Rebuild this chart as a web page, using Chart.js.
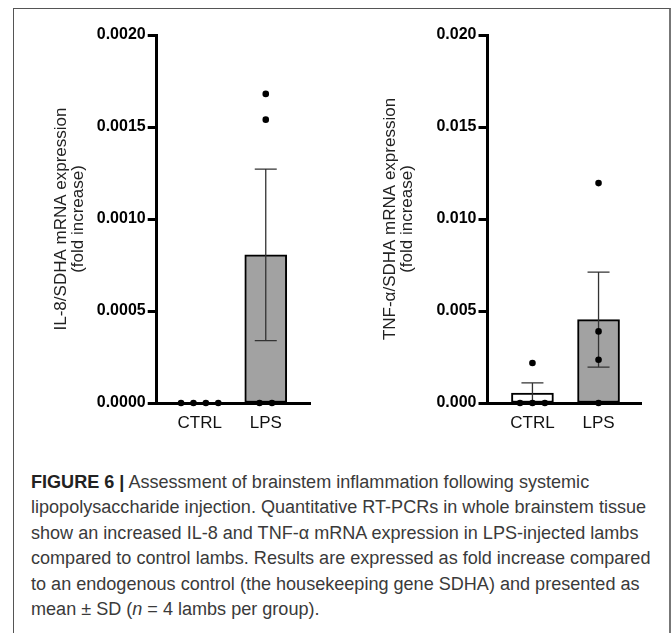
<!DOCTYPE html>
<html>
<head>
<meta charset="utf-8">
<script src="https://cdn.jsdelivr.net/npm/chart.js@4.4.0/dist/chart.umd.min.js"></script>
<style>
  html, body { margin: 0; padding: 0; background: #fff; }
  body { width: 672px; height: 633px; position: relative; overflow: hidden; font-family: "Liberation Sans", Arial, sans-serif; }
  .frame { position: absolute; left: 13px; top: 8px; width: 655px; height: 700px; border-top: 1px solid #555; border-left: 1px solid #555; border-right: 2px solid #777; }
  canvas { position: absolute; top: 0; }
  #left { left: 0; }
  #right { left: 336px; }
  #caption { position: absolute; left: 31px; top: 470px; line-height: 25.4px; font-size: 17px; color: #3a3a3a; white-space: nowrap; }
  #caption b { color: #222; }
</style>
</head>
<body>
<div class="frame"></div>
<canvas id="left" width="336" height="450"></canvas>
<canvas id="right" width="336" height="450"></canvas>
<div id="caption">
  <div><b>FIGURE 6 |</b> Assessment of brainstem inflammation following systemic</div>
  <div>lipopolysaccharide injection. Quantitative RT-PCRs in whole brainstem tissue</div>
  <div>show an increased IL-8 and TNF-α mRNA expression in LPS-injected lambs</div>
  <div id="wide">compared to control lambs. Results are expressed as fold increase compared</div>
  <div>to an endogenous control (the housekeeping gene SDHA) and presented as</div>
  <div>mean ± SD (<i>n</i> = 4 lambs per group).</div>
</div>
<script>
// values
const categories = ['CTRL', 'LPS'];
const barFills = ['#ffffff', '#a2a2a2'];

const il8Points = [[0, 0, 0, 0], [0.00168, 0.00154, 0, 0]];
const il8Means = [0, 0.000805];
const il8Errors = [0, 0.000466];
const il8Ticks = [0, 0.0005, 0.001, 0.0015, 0.002];

const tnfPoints = [[0.00217, 0, 0, 0], [0.01195, 0.00389, 0.00235, 0]];
const tnfMeans = [0.00054, 0.00453];
const tnfErrors = [0.00055, 0.00258];
const tnfTicks = [0, 0.005, 0.01, 0.015, 0.02];

const FONT = '"Liberation Sans", Arial, sans-serif';

// spread equal values sideways, like a scatter-dot column
function spreadPoints(groups, step) {
    const out = [];
    groups.forEach((vals, i) => {
        const count = {};
        vals.forEach(v => count[v] = (count[v] || 0) + 1);
        const seen = {};
        vals.forEach(v => {
            seen[v] = seen[v] === undefined ? 0 : seen[v] + 1;
            out.push({ x: i + (seen[v] - (count[v] - 1) / 2) * step, y: v });
        });
    });
    return out;
}

const errorBars = {
    id: 'errorBars',
    afterDatasetDraw(chart, args, opts) {
        if (args.index !== 0) return;
        const { ctx, scales: { x, y } } = chart;
        ctx.save();
        ctx.strokeStyle = '#333';
        ctx.lineWidth = 1.3;
        opts.means.forEach((m, i) => {
            const e = opts.errors[i];
            if (!e) return;
            const px = x.getPixelForValue(i);
            const hi = y.getPixelForValue(m + e);
            const lo = y.getPixelForValue(Math.max(m - e, 0));
            ctx.beginPath();
            ctx.moveTo(px, hi); ctx.lineTo(px, lo);
            ctx.moveTo(px - 11, hi); ctx.lineTo(px + 11, hi);
            if (m - e > 0) { ctx.moveTo(px - 11, lo); ctx.lineTo(px + 11, lo); }
            ctx.stroke();
        });
        ctx.restore();
    }
};

function makeChart(id, cfg) {
    return new Chart(document.getElementById(id), {
        type: 'bar',
        data: {
            datasets: [
                {
                    type: 'bar',
                    data: cfg.means.map((m, i) => ({ x: i, y: m })),
                    backgroundColor: barFills,
                    borderColor: '#000',
                    borderWidth: 2,
                    borderSkipped: false,
                    barThickness: 42,
                    clip: false,
                    order: 2
                },
                {
                    type: 'scatter',
                    data: spreadPoints(cfg.points, 0.188),
                    pointRadius: 3.3,
                    pointBackgroundColor: '#000',
                    pointBorderWidth: 0,
                    clip: false,
                    order: 1
                }
            ]
        },
        options: {
            responsive: false,
            animation: false,
            layout: { padding: { top: 35, right: cfg.padRight, bottom: 0, left: 0 } },
            plugins: {
                legend: { display: false },
                tooltip: { enabled: false },
                errorBars: { means: cfg.means, errors: cfg.errors }
            },
            scales: {
                x: {
                    type: 'linear',
                    min: cfg.xMin,
                    max: cfg.xMax,
                    offset: false,
                    afterBuildTicks: s => { s.ticks = categories.map((c, i) => ({ value: i })); },
                    afterFit: s => { s.height = 47; },
                    grid: { display: false, drawTicks: false },
                    border: { display: true, color: '#000', width: 3 },
                    ticks: {
                        color: '#111',
                        font: { family: FONT, size: 17 },
                        padding: 10,
                        autoSkip: false,
                        maxRotation: 0,
                        callback: v => categories[v]
                    }
                },
                y: {
                    min: 0,
                    max: cfg.ticks[cfg.ticks.length - 1],
                    afterBuildTicks: s => { s.ticks = cfg.ticks.map(v => ({ value: v })); },
                    afterFit: s => { s.width = cfg.axisX; },
                    grid: { display: true, drawOnChartArea: false, drawTicks: true, tickLength: 9, tickWidth: 3, tickColor: '#000' },
                    border: { display: true, color: '#000', width: 3 },
                    ticks: {
                        color: '#000',
                        font: { family: FONT, size: 16, weight: 'bold' },
                        padding: 2,
                        callback: v => v.toFixed(cfg.decimals)
                    },
                    title: {
                        display: true,
                        text: cfg.title,
                        color: '#222',
                        font: { family: FONT, size: 17, lineHeight: 1.05 },
                        padding: { top: cfg.titlePad, bottom: 0 }
                    }
                }
            }
        },
        plugins: [errorBars]
    });
}

makeChart('left', {
    points: il8Points, means: il8Means, errors: il8Errors, ticks: il8Ticks, decimals: 4,
    title: ['IL-8/SDHA mRNA expression', '(fold increase)'],
    axisX: 156.7, padRight: 25.3, xMin: -0.65, xMax: 1.68, titlePad: 52
});

makeChart('right', {
    points: tnfPoints, means: tnfMeans, errors: tnfErrors, ticks: tnfTicks, decimals: 3,
    title: ['TNF-α/SDHA mRNA expression', '(fold increase)'],
    axisX: 151.5, padRight: 30.5, xMin: -0.68, xMax: 1.65, titlePad: 45
});

// fit caption so the widest line spans the same width as in the figure
const wide = document.getElementById('wide');
const cap = document.getElementById('caption');
const w = wide.getBoundingClientRect().width;
cap.style.fontSize = (17 * 620 / w) + 'px';
</script>
</body>
</html>
